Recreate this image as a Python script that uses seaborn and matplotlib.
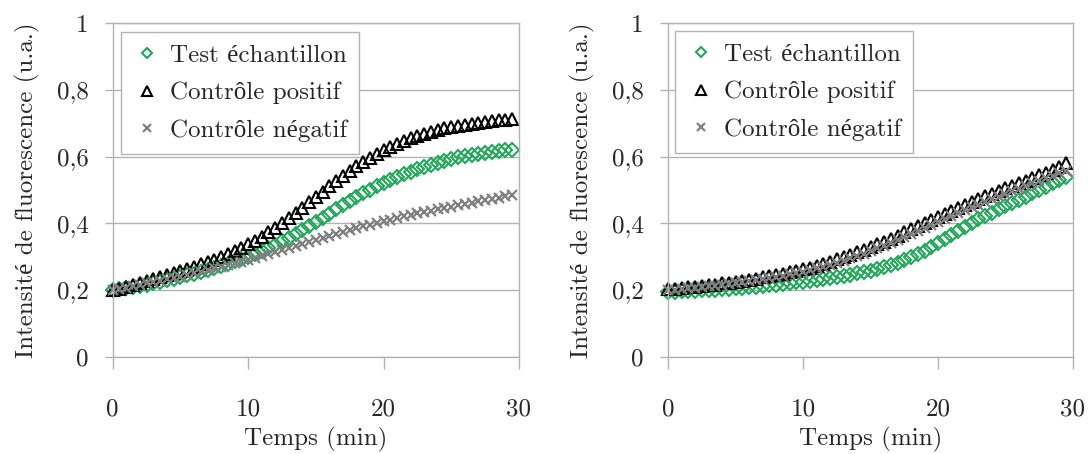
import matplotlib
matplotlib.use("Agg")
import matplotlib.pyplot as plt
import seaborn as sns

# ---------------- data ----------------
time_min = [0.0, 0.5, 1.0, 1.5, 2.0, 2.5, 3.0, 3.5, 4.0, 4.5,
            5.0, 5.5, 6.0, 6.5, 7.0, 7.5, 8.0, 8.5, 9.0, 9.5,
            10.0, 10.5, 11.0, 11.5, 12.0, 12.5, 13.0, 13.5, 14.0, 14.5,
            15.0, 15.5, 16.0, 16.5, 17.0, 17.5, 18.0, 18.5, 19.0, 19.5,
            20.0, 20.5, 21.0, 21.5, 22.0, 22.5, 23.0, 23.5, 24.0, 24.5,
            25.0, 25.5, 26.0, 26.5, 27.0, 27.5, 28.0, 28.5, 29.0, 29.5]

left_test = [0.200, 0.203, 0.207, 0.210, 0.214, 0.217, 0.221, 0.225, 0.229, 0.234,
             0.239, 0.244, 0.249, 0.254, 0.260, 0.266, 0.272, 0.279, 0.286, 0.293,
             0.300, 0.308, 0.317, 0.326, 0.336, 0.346, 0.357, 0.368, 0.380, 0.392,
             0.404, 0.416, 0.429, 0.442, 0.455, 0.467, 0.479, 0.490, 0.501, 0.511,
             0.521, 0.530, 0.539, 0.547, 0.555, 0.562, 0.569, 0.576, 0.582, 0.588,
             0.593, 0.598, 0.602, 0.606, 0.609, 0.612, 0.615, 0.617, 0.619, 0.621]
left_pos = [0.200, 0.205, 0.211, 0.217, 0.222, 0.228, 0.234, 0.240, 0.246, 0.252,
            0.258, 0.264, 0.270, 0.277, 0.284, 0.291, 0.299, 0.307, 0.316, 0.326,
            0.337, 0.348, 0.360, 0.373, 0.387, 0.401, 0.416, 0.431, 0.447, 0.463,
            0.479, 0.495, 0.511, 0.527, 0.542, 0.557, 0.571, 0.584, 0.597, 0.609,
            0.620, 0.630, 0.639, 0.648, 0.656, 0.663, 0.669, 0.675, 0.680, 0.685,
            0.689, 0.693, 0.696, 0.699, 0.702, 0.705, 0.707, 0.709, 0.711, 0.713]
left_neg = [0.200, 0.204, 0.208, 0.212, 0.216, 0.220, 0.224, 0.228, 0.232, 0.236,
            0.240, 0.245, 0.250, 0.255, 0.260, 0.265, 0.270, 0.275, 0.280, 0.285,
            0.290, 0.296, 0.302, 0.308, 0.314, 0.320, 0.326, 0.332, 0.338, 0.344,
            0.350, 0.356, 0.362, 0.368, 0.374, 0.380, 0.386, 0.391, 0.396, 0.401,
            0.406, 0.411, 0.416, 0.421, 0.426, 0.430, 0.434, 0.438, 0.442, 0.446,
            0.450, 0.454, 0.458, 0.462, 0.466, 0.470, 0.474, 0.477, 0.481, 0.484]

right_test = [0.195, 0.196, 0.197, 0.198, 0.199, 0.200, 0.201, 0.202, 0.204, 0.205,
              0.207, 0.208, 0.210, 0.211, 0.213, 0.215, 0.217, 0.219, 0.221, 0.223,
              0.225, 0.227, 0.230, 0.232, 0.235, 0.238, 0.242, 0.246, 0.250, 0.254,
              0.258, 0.263, 0.268, 0.274, 0.281, 0.289, 0.298, 0.308, 0.318, 0.330,
              0.342, 0.354, 0.366, 0.378, 0.390, 0.401, 0.412, 0.422, 0.432, 0.442,
              0.451, 0.461, 0.470, 0.480, 0.490, 0.500, 0.510, 0.520, 0.530, 0.540]
right_pos = [0.203, 0.205, 0.207, 0.209, 0.211, 0.213, 0.215, 0.217, 0.220, 0.222,
             0.225, 0.228, 0.231, 0.234, 0.238, 0.241, 0.245, 0.249, 0.253, 0.257,
             0.262, 0.267, 0.273, 0.279, 0.285, 0.292, 0.299, 0.306, 0.313, 0.321,
             0.329, 0.337, 0.345, 0.354, 0.363, 0.373, 0.382, 0.392, 0.401, 0.411,
             0.420, 0.429, 0.438, 0.446, 0.455, 0.464, 0.472, 0.481, 0.489, 0.497,
             0.505, 0.513, 0.520, 0.528, 0.536, 0.544, 0.552, 0.560, 0.568, 0.580]
right_neg = [0.200, 0.202, 0.204, 0.206, 0.208, 0.210, 0.212, 0.214, 0.216, 0.219,
             0.221, 0.224, 0.227, 0.230, 0.233, 0.236, 0.240, 0.243, 0.247, 0.251,
             0.255, 0.260, 0.265, 0.270, 0.276, 0.282, 0.288, 0.295, 0.302, 0.309,
             0.317, 0.325, 0.333, 0.341, 0.350, 0.359, 0.368, 0.377, 0.386, 0.395,
             0.404, 0.413, 0.422, 0.431, 0.439, 0.448, 0.456, 0.464, 0.472, 0.480,
             0.488, 0.496, 0.504, 0.512, 0.520, 0.528, 0.536, 0.543, 0.551, 0.558]

series_labels = ["Test échantillon", "Contrôle positif", "Contrôle négatif"]
x_ticks = [0, 10, 20, 30]
y_ticks = [0, 0.2, 0.4, 0.6, 0.8, 1.0]
y_tick_labels = ["0", "0,2", "0,4", "0,6", "0,8", "1"]
x_label = "Temps (min)"
y_label = "Intensité de fluorescence (u.a.)"

# ---------------- style ----------------
sns.set_theme(style="white")
plt.rcParams["font.family"] = ["cmr10", "Liberation Serif", "DejaVu Serif"]
plt.rcParams["mathtext.fontset"] = "cm"
plt.rcParams["axes.formatter.use_mathtext"] = True

GREEN = "#22a85a"
BLACK = "#000000"
GRAY = "#808080"
FRAME = "#b3b3b3"
FS = 18

marker_styles = [
    dict(marker="D", markersize=6.8, markerfacecolor="none", markeredgecolor=GREEN,
         markeredgewidth=1.5, color=GREEN),
    dict(marker="^", markersize=8.2, markerfacecolor="none", markeredgecolor=BLACK,
         markeredgewidth=1.5, color=BLACK),
    dict(marker="x", markersize=7.0, markeredgecolor=GRAY, markeredgewidth=1.6, color=GRAY),
]

fig = plt.figure(figsize=(10.88, 4.54), dpi=100)
ax_left = fig.add_axes([0.1036, 0.2137, 0.3734, 0.7357])
ax_right = fig.add_axes([0.614, 0.2137, 0.3722, 0.7357])

panels = [
    (ax_left, [left_test, left_pos, left_neg], (0.020, 0.973)),
    (ax_right, [right_test, right_pos, right_neg], (0.017, 0.976)),
]

for ax, series, leg_anchor in panels:
    for label, vals, st in zip(series_labels, series, marker_styles):
        sns.lineplot(x=time_min, y=vals, ax=ax, linestyle="", label=label,
                     clip_on=False, **st)
    ax.set_xlim(0, 30)
    ax.set_ylim(0, 1)
    ax.set_xticks(x_ticks)
    ax.set_xticklabels([str(t) for t in x_ticks])
    ax.set_yticks(y_ticks)
    ax.set_yticklabels(y_tick_labels)
    ax.grid(axis="y", color=FRAME, linewidth=1.0)
    ax.grid(axis="x", visible=False)
    ax.set_axisbelow(True)
    for sp in ax.spines.values():
        sp.set_visible(True)
        sp.set_color(FRAME)
        sp.set_linewidth(1.0)
    ax.tick_params(axis="y", direction="out", length=5.5, width=1.0, color=FRAME,
                   pad=12, labelsize=FS, left=True)
    ax.tick_params(axis="x", direction="out", length=8.5, width=1.0, color=FRAME,
                   pad=21, labelsize=FS, bottom=True)
    ax.set_xlabel(x_label, fontsize=FS, labelpad=5)
    ax.set_ylabel(y_label, fontsize=FS, labelpad=12)
    handles, labels = ax.get_legend_handles_labels()
    leg = ax.legend(handles, labels, loc="upper left", bbox_to_anchor=leg_anchor,
                    borderaxespad=0, frameon=True, fancybox=False, framealpha=1,
                    edgecolor=FRAME, fontsize=FS, handlelength=1.1,
                    handletextpad=0.35, labelspacing=0.6, borderpad=0.5,
                    numpoints=1, markerscale=0.8)
    leg.get_frame().set_linewidth(1.0)

fig.savefig("out.png", dpi=100)
